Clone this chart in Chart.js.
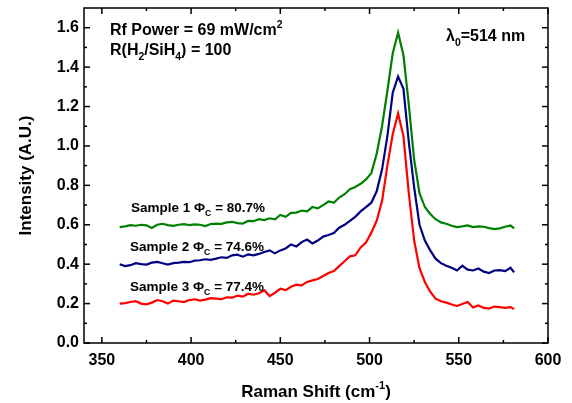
<!DOCTYPE html>
<html>
<head>
<meta charset="utf-8">
<script src="https://cdn.jsdelivr.net/npm/chart.js@4.4.1/dist/chart.umd.min.js"></script>
<style>
  html, body { margin: 0; padding: 0; background: #fff; }
  #ramanChart { display: block; }
</style>
</head>
<body>
<canvas id="ramanChart" width="572" height="403"></canvas>
<script>
// Raman shift (cm-1) of each sample point
const wavenumber = [360, 363, 366, 369, 372, 375, 378, 381, 384, 387, 390, 393, 396, 399, 402,
  405, 408, 411, 414, 417, 420, 423, 426, 429, 432, 435, 438, 441, 444, 447, 450, 453, 456, 459,
  462, 465, 468, 471, 474, 477, 480, 483, 486, 489, 492, 495, 498, 501, 504, 507, 510, 513, 516,
  519, 522, 525, 528, 531, 534, 537, 540, 543, 546, 549, 552, 555, 558, 561, 564, 567, 570, 573,
  576, 579, 581];

// Sample 1 (green)
const sample1 = [0.588, 0.592, 0.598, 0.595, 0.600, 0.597, 0.584, 0.600, 0.605, 0.598, 0.594,
  0.600, 0.603, 0.598, 0.602, 0.600, 0.593, 0.604, 0.606, 0.605, 0.612, 0.615, 0.608, 0.606,
  0.620, 0.618, 0.628, 0.624, 0.633, 0.628, 0.650, 0.640, 0.660, 0.662, 0.672, 0.668, 0.690,
  0.683, 0.700, 0.718, 0.712, 0.738, 0.755, 0.780, 0.792, 0.808, 0.830, 0.862, 0.960, 1.100,
  1.280, 1.470, 1.575, 1.460, 1.210, 0.930, 0.760, 0.690, 0.655, 0.628, 0.612, 0.605, 0.595,
  0.588, 0.592, 0.597, 0.588, 0.592, 0.590, 0.583, 0.578, 0.582, 0.590, 0.596, 0.582];

// Sample 2 (blue)
const sample2 = [0.400, 0.390, 0.395, 0.405, 0.400, 0.398, 0.408, 0.412, 0.405, 0.398, 0.405,
  0.408, 0.412, 0.410, 0.418, 0.420, 0.425, 0.422, 0.428, 0.435, 0.432, 0.445, 0.448, 0.438,
  0.450, 0.445, 0.452, 0.462, 0.470, 0.455, 0.470, 0.480, 0.500, 0.490, 0.512, 0.525, 0.505,
  0.520, 0.540, 0.548, 0.558, 0.585, 0.600, 0.620, 0.640, 0.668, 0.690, 0.712, 0.770, 0.880,
  1.050, 1.270, 1.352, 1.290, 1.020, 0.790, 0.600, 0.520, 0.470, 0.428, 0.405, 0.392, 0.382,
  0.368, 0.392, 0.372, 0.368, 0.378, 0.362, 0.355, 0.368, 0.370, 0.365, 0.382, 0.358];

// Sample 3 (red)
const sample3 = [0.200, 0.202, 0.208, 0.212, 0.200, 0.196, 0.205, 0.218, 0.212, 0.200, 0.215,
  0.212, 0.208, 0.218, 0.222, 0.215, 0.220, 0.228, 0.225, 0.222, 0.232, 0.230, 0.240, 0.235,
  0.250, 0.245, 0.252, 0.268, 0.238, 0.255, 0.275, 0.268, 0.285, 0.296, 0.292, 0.310, 0.318,
  0.325, 0.340, 0.355, 0.365, 0.390, 0.415, 0.440, 0.445, 0.485, 0.510, 0.560, 0.620, 0.720,
  0.900, 1.060, 1.165, 1.050, 0.760, 0.520, 0.380, 0.310, 0.260, 0.225, 0.212, 0.205, 0.195,
  0.188, 0.198, 0.208, 0.180, 0.190, 0.178, 0.175, 0.185, 0.182, 0.178, 0.182, 0.172];

const FONT = 'Arial, "Liberation Sans", Helvetica, sans-serif';

// draws a run of text parts, some of them sub- or superscript
function richWidth(ctx, parts, size) {
  let w = 0;
  parts.forEach(p => {
    const s = p.sub || p.sup ? size * 0.65 : size;
    ctx.font = 'bold ' + s + 'px ' + FONT;
    w += ctx.measureText(p.t).width;
  });
  return w;
}

function drawRich(ctx, x, y, parts, size) {
  ctx.textAlign = 'left';
  ctx.textBaseline = 'alphabetic';
  parts.forEach(p => {
    const s = p.sub || p.sup ? size * 0.65 : size;
    const dy = p.sub ? size * 0.3 : (p.sup ? -size * 0.45 : 0);
    ctx.font = 'bold ' + s + 'px ' + FONT;
    ctx.fillText(p.t, x, y + dy);
    x += ctx.measureText(p.t).width;
  });
}

const framePlugin = {
  id: 'frame',
  afterDraw(chart) {
    const { ctx, chartArea: a, scales: { x, y } } = chart;
    ctx.save();
    ctx.strokeStyle = '#000';
    ctx.lineWidth = 1.5;
    ctx.strokeRect(a.left, a.top, a.right - a.left, a.bottom - a.top);

    const tick = (x1, y1, x2, y2) => {
      ctx.beginPath();
      ctx.moveTo(x1, y1);
      ctx.lineTo(x2, y2);
      ctx.stroke();
    };
    // inward ticks on all four sides, minor halfway
    x.ticks.forEach(t => {
      const px = x.getPixelForValue(t.value);
      tick(px, a.bottom, px, a.bottom - 6);
      tick(px, a.top, px, a.top + 6);
      const m = t.value + 25;
      if (m < x.max) {
        const pm = x.getPixelForValue(m);
        tick(pm, a.bottom, pm, a.bottom - 3);
        tick(pm, a.top, pm, a.top + 3);
      }
    });
    y.ticks.forEach(t => {
      const py = y.getPixelForValue(t.value);
      tick(a.left, py, a.left + 6, py);
      tick(a.right, py, a.right - 6, py);
      const m = t.value + 0.1;
      if (m < y.max) {
        const pm = y.getPixelForValue(m);
        tick(a.left, pm, a.left + 3, pm);
        tick(a.right, pm, a.right - 3, pm);
      }
    });

    ctx.fillStyle = '#000';
    // axis titles
    const xt = [{ t: 'Raman Shift (cm' }, { t: '-1', sup: true }, { t: ')' }];
    const xw = richWidth(ctx, xt, 17);
    drawRich(ctx, (a.left + a.right) / 2 - xw / 2, 397, xt, 17);

    ctx.save();
    ctx.translate(31, (a.top + a.bottom) / 2);
    ctx.rotate(-Math.PI / 2);
    ctx.font = 'bold 17px ' + FONT;
    ctx.textAlign = 'center';
    ctx.textBaseline = 'alphabetic';
    ctx.fillText('Intensity (A.U.)', 0, 0);
    ctx.restore();

    // annotations
    drawRich(ctx, 110, 35, [{ t: 'Rf Power = 69 mW/cm' }, { t: '2', sup: true }], 16);
    drawRich(ctx, 110, 55, [{ t: 'R(H' }, { t: '2', sub: true }, { t: '/SiH' }, { t: '4', sub: true },
      { t: ') = 100' }], 16);
    drawRich(ctx, 446, 41, [{ t: '\u03bb' }, { t: '0', sub: true }, { t: '=514 nm' }], 16);
    drawRich(ctx, 131, 212, [{ t: 'Sample 1 \u03a6' }, { t: 'C', sub: true }, { t: ' = 80.7%' }], 13.5);
    drawRich(ctx, 130, 251, [{ t: 'Sample 2 \u03a6' }, { t: 'C', sub: true }, { t: ' = 74.6%' }], 13.5);
    drawRich(ctx, 130, 291, [{ t: 'Sample 3 \u03a6' }, { t: 'C', sub: true }, { t: ' = 77.4%' }], 13.5);
    ctx.restore();
  }
};

const toPoints = vals => vals.map((v, i) => ({ x: wavenumber[i], y: v }));

const ctx = document.getElementById('ramanChart');

new Chart(ctx, {
  type: 'line',
  data: {
    datasets: [
      { label: 'Sample 1', data: toPoints(sample1), borderColor: '#008000', borderWidth: 2.2, pointRadius: 0, tension: 0 },
      { label: 'Sample 2', data: toPoints(sample2), borderColor: '#000080', borderWidth: 2.2, pointRadius: 0, tension: 0 },
      { label: 'Sample 3', data: toPoints(sample3), borderColor: '#ff0000', borderWidth: 2.2, pointRadius: 0, tension: 0 }
    ]
  },
  options: {
    responsive: false,
    animation: false,
    layout: { padding: { left: 0, right: 24, top: 8, bottom: 0 } },
    plugins: { legend: { display: false }, tooltip: { enabled: false } },
    scales: {
      x: {
        type: 'linear',
        min: 340,
        max: 600,
        grid: { display: false, drawTicks: false, tickLength: 0 },
        border: { display: false },
        ticks: { stepSize: 50, includeBounds: false, padding: 8, color: '#000',
          font: { family: FONT, size: 16, weight: 'bold' } },
        afterFit(axis) { axis.height = 60; axis.paddingLeft = 0; axis.paddingRight = 0; }
      },
      y: {
        min: 0,
        max: 1.7,
        grid: { display: false, drawTicks: false, tickLength: 0 },
        border: { display: false },
        ticks: { stepSize: 0.2, includeBounds: false, padding: 5, color: '#000',
          font: { family: FONT, size: 16, weight: 'bold' },
          callback: v => v.toFixed(1) },
        afterFit(axis) { axis.width = 84; axis.paddingTop = 0; axis.paddingBottom = 0; }
      }
    }
  },
  plugins: [framePlugin]
});
</script>
</body>
</html>
